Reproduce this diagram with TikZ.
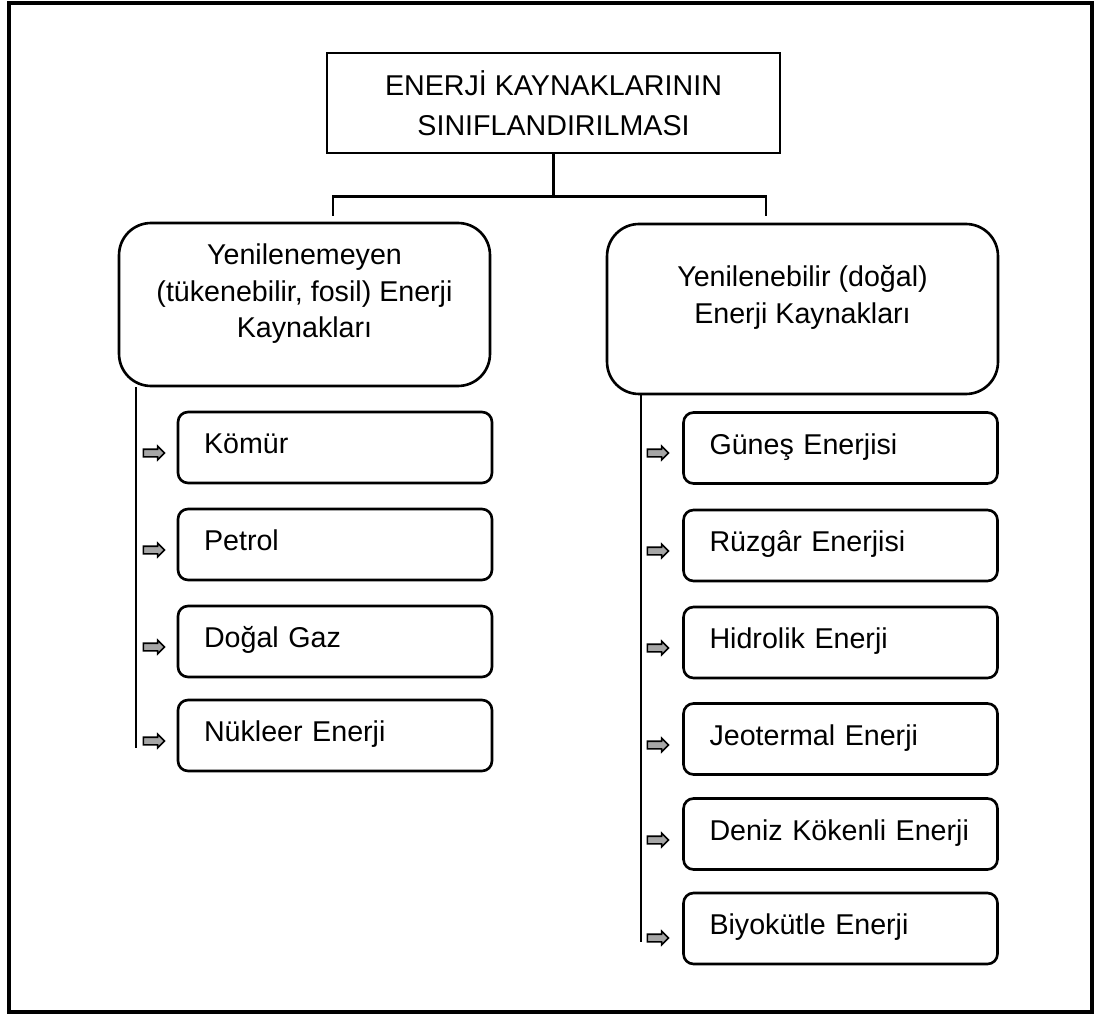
\documentclass[tikz,border=0pt]{standalone}
\usepackage{fontspec}
\setmainfont{Liberation Sans}
\usetikzlibrary{shapes.arrows,positioning}

\begin{document}
\begin{tikzpicture}[x=0.02cm, y=-0.02cm,
  frame/.style={draw=black, line width=1.8pt},
  titlebox/.style={rectangle, draw=black, line width=1.5pt, minimum width=9.06cm, minimum height=2cm, align=center, font=\fontsize{16.3}{22.5}\selectfont},
  groupbox/.style={rectangle, rounded corners=0.64cm, draw=black, line width=1.5pt},
  grouptext/.style={align=center, font=\fontsize{16.3}{20.8}\selectfont},
  itembox/.style={rectangle, rounded corners=0.2cm, draw=black, line width=1.5pt, minimum height=1.42cm, text width=5.24cm, inner xsep=0.52cm, align=left, text height=11.7pt, text depth=4.6pt, font=\fontsize{16.3}{20}\selectfont},
  pointer/.style={single arrow, draw=black, fill=gray!70, line width=0.9pt, minimum height=0.42cm, inner xsep=0pt, inner ysep=0.06cm, single arrow head extend=0.06cm},
  conn/.style={line width=1.5pt}
]
\useasboundingbox (0,0) rectangle (1094,1016);

% Outer frame
\draw[frame] (9,3) rectangle (1092,1012);

% Title
\node[titlebox] (title) at (553.5,103) {ENERJİ KAYNAKLARININ\\SINIFLANDIRILMASI};

% Main groups
\node[groupbox, minimum width=7.42cm, minimum height=3.26cm] (nonren) at (304.5,304.5) {};
\node[grouptext] (nonrentext) at (304.5,294) {Yenilenemeyen\\(tükenebilir, fosil) Enerji\\Kaynakları};
\node[groupbox, minimum width=7.82cm, minimum height=3.4cm] (ren) at (802.5,309) {};
\node[grouptext] (rentext) at (802.5,297.5) {Yenilenebilir (doğal)\\Enerji Kaynakları};

% Non-renewable sources
\node[itembox] (komur) at (335,447.5) {Kömür};
\node[itembox] (petrol) at (335,544.5) {Petrol};
\node[itembox] (gaz) at (335,641.5) {Doğal Gaz};
\node[itembox] (nukleer) at (335,735.5) {Nükleer Enerji};

% Renewable sources
\node[itembox] (gunes) at (840.5,448) {Güneş Enerjisi};
\node[itembox] (ruzgar) at (840.5,545.5) {Rüzgâr Enerjisi};
\node[itembox] (hidro) at (840.5,642.5) {Hidrolik Enerji};
\node[itembox] (jeo) at (840.5,739) {Jeotermal Enerji};
\node[itembox] (deniz) at (840.5,834) {Deniz Kökenli Enerji};
\node[itembox] (biyo) at (840.5,928.5) {Biyokütle Enerji};

% Small arrows
\node[pointer] (pkomur) at (152,453) {};
\node[pointer] (ppetrol) at (152,550) {};
\node[pointer] (pgaz) at (152,647) {};
\node[pointer] (pnukleer) at (152,741) {};
\node[pointer] (pgunes) at (656,453) {};
\node[pointer] (pruzgar) at (656,551) {};
\node[pointer] (phidro) at (656,648) {};
\node[pointer] (pjeo) at (656,745) {};
\node[pointer] (pdeniz) at (656,840) {};
\node[pointer] (pbiyo) at (656,938) {};

% Connections
\coordinate (dropL) at (333,216);
\coordinate (dropR) at (766,216);
\draw[conn] (title.south) -- ++(0,42) coordinate (split);
\draw[conn] (dropL) |- (split) -| (dropR);

\coordinate (trunkL) at (136,748);
\coordinate (trunkR) at (641,942);
\draw[conn] (trunkL |- nonren.south) -- (trunkL);
\draw[conn] (trunkR |- ren.south) -- (trunkR);

\end{tikzpicture}
\end{document}
